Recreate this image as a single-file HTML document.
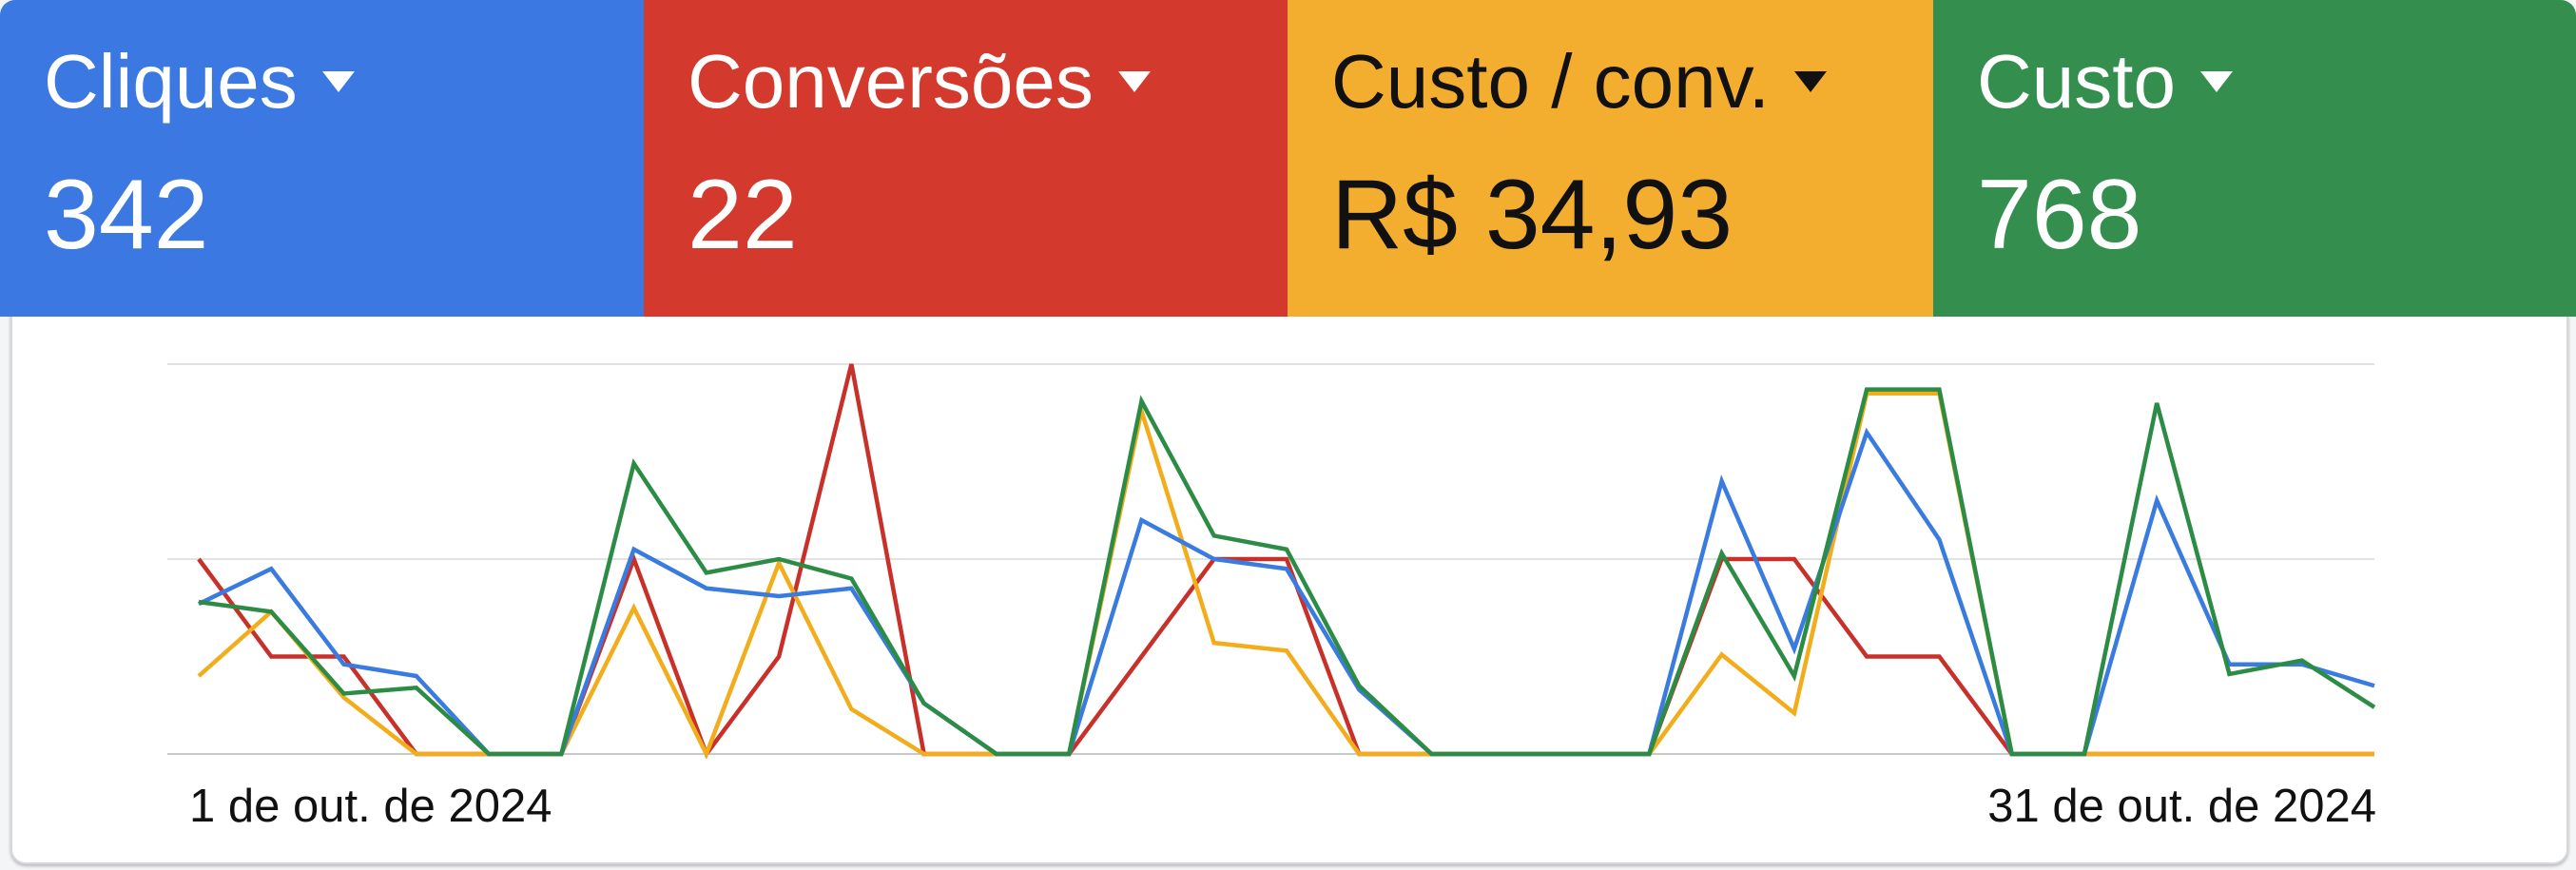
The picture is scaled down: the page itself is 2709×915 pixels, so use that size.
<!DOCTYPE html>
<html><head><meta charset="utf-8">
<style>
body{margin:0;width:2709px;height:915px;background:#f4f5f6;overflow:hidden;font-family:"Liberation Sans",sans-serif;position:relative}
.card{position:absolute;left:11px;top:300px;width:2686px;height:605px;background:#fff;border:2px solid #d6d8db;border-radius:16px;box-shadow:0 2px 3px rgba(0,0,0,.25)}
.tile{position:absolute;top:0;height:333px;}
.lbl{position:absolute;left:46px;top:46px;font-size:80px;line-height:1;white-space:nowrap}
.num{position:absolute;left:46px;top:174px;font-size:104px;line-height:1;white-space:nowrap}
.tri{display:inline-block;width:0;height:0;border-left:17px solid transparent;border-right:17px solid transparent;border-top:22px solid currentColor;vertical-align:middle;margin-left:26px;position:relative;top:-6px}
svg{position:absolute;left:0;top:0}
</style></head><body>
<div class="card"></div>
<div class="tile" style="left:0;width:677px;background:#3b78e2;color:#fff;border-top-left-radius:16px">
 <div class="lbl">Cliques<span class="tri"></span></div>
 <div class="num">342</div></div>
<div class="tile" style="left:677px;width:677px;background:#d3392d;color:#fff">
 <div class="lbl">Conversões<span class="tri"></span></div>
 <div class="num">22</div></div>
<div class="tile" style="left:1354px;width:679px;background:#f4ae2f;color:#111">
 <div class="lbl">Custo / conv.<span class="tri"></span></div>
 <div class="num">R$ 34,93</div></div>
<div class="tile" style="left:2033px;width:676px;background:#348f4f;color:#fff;border-top-right-radius:16px">
 <div class="lbl">Custo<span class="tri"></span></div>
 <div class="num">768</div></div>
<svg id="chart" width="2709" height="915"></svg>
<script>
const days = Array.from({length:31},(_,i)=>i+1);
const clicks = [0.77,0.95,0.46,0.40,0,0,1.05,0.85,0.81,0.85,0.26,0,0,1.2,1.0,0.95,0.33,0,0,0,0,1.4,0.54,1.65,1.10,0,0,1.3,0.46,0.46,0.35];
const costPerConv = [0.40,0.73,0.29,0,0,0,0.75,0,0.98,0.23,0,0,0,1.76,0.57,0.53,0,0,0,0,0,0.51,0.21,1.85,1.85,0,0,0,0,0,0];
const conversions = [1.0,0.5,0.5,0,0,0,1.0,0,0.5,2.0,0,0,0,0.5,1.0,1.0,0,0,0,0,0,1.0,1.0,0.5,0.5,0,0,0,0,0,0];
const cost = [0.78,0.73,0.31,0.34,0,0,1.49,0.93,1.0,0.9,0.26,0,0,1.81,1.12,1.05,0.35,0,0,0,0,1.03,0.40,1.87,1.87,0,0,1.8,0.41,0.48,0.24];
const gridVals = [0,1,2];
const xLabels = ["1 de out. de 2024","31 de out. de 2024"];
const NS="http://www.w3.org/2000/svg";
const svg=document.getElementById('chart');
const x0=209,x1=2497,yb=793,yt=383;
const xs=d=>x0+(d-1)*(x1-x0)/30;
const ys=v=>yb-v*(yb-yt)/2;
gridVals.forEach(g=>{const l=document.createElementNS(NS,'line');
l.setAttribute('x1',176);l.setAttribute('x2',2497);l.setAttribute('y1',ys(g));l.setAttribute('y2',ys(g));
l.setAttribute('stroke',g===0?'#c8c8c8':'#e2e2e2');l.setAttribute('stroke-width',2);


svg.appendChild(l);});
function line(vals,color,name){const p=document.createElementNS(NS,'polyline');
p.setAttribute('points',vals.map((v,i)=>xs(days[i])+','+ys(v)).join(' '));
p.setAttribute('fill','none');p.setAttribute('stroke',color);p.setAttribute('stroke-width',4.5);p.setAttribute('stroke-linejoin','miter');


svg.appendChild(p);}
line(conversions,'#c8312a','conversions-line');
line(costPerConv,'#f2ad1c','cost-per-conv-line');
line(clicks,'#3a7be0','clicks-line');
line(cost,'#2c8c45','cost-line');
xLabels.forEach((t,i)=>{const e=document.createElementNS(NS,'text');
e.textContent=t;e.setAttribute('x',i===0?199:2499);e.setAttribute('y',864);
e.setAttribute('text-anchor',i===0?'start':'end');e.setAttribute('font-size',49);
e.setAttribute('font-family','Liberation Sans, sans-serif');e.setAttribute('fill','#111');


svg.appendChild(e);});
</script>
</body></html>
